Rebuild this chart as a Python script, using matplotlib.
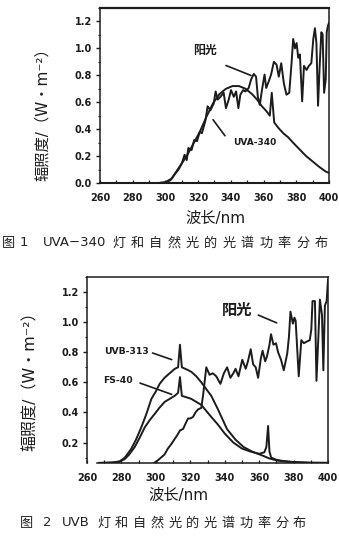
import matplotlib
matplotlib.use('Agg')
import matplotlib.pyplot as plt
from matplotlib.ticker import MultipleLocator

# ---- 图1: UVA-340 灯与阳光 ----
UVA340_WL = [296, 300, 304, 308, 313, 317, 321, 325, 329, 333, 337, 341, 345,
             349, 353, 356, 359, 362, 363.8, 365, 366.5, 369, 372, 375, 378,
             382, 386, 390, 394, 398, 400]
UVA340_VAL = [0.0, 0.005, 0.035, 0.11, 0.2, 0.29, 0.38, 0.49, 0.59, 0.66, 0.70,
              0.72, 0.72, 0.70, 0.66, 0.62, 0.57, 0.53, 0.50, 0.67, 0.45, 0.41,
              0.37, 0.34, 0.30, 0.25, 0.20, 0.16, 0.12, 0.085, 0.075]

SUN1_WL = [296, 300, 303, 306, 308, 310, 311.7, 313, 314, 316, 317.6, 319.3,
           321, 322.3, 324.4, 325.8, 327.5, 329.5, 330.7, 332, 333.6, 335.6,
           337, 338.7, 340.1, 341.8, 343.2, 344.6, 345.8, 347.5, 348.9, 350.9,
           352.4, 354, 355.4, 356.5, 357.7, 359, 360.6, 361.6, 363.2, 364.6,
           366.3, 367.9, 369.3, 370.8, 372.4, 374, 375.7, 377.1, 378.1, 379.2,
           380.2, 381.2, 382.2, 383.6, 384.7, 386.3, 387.7, 389.2, 390.4, 391.4,
           392.3, 393.3, 394.3, 395.3, 396.1, 397, 398, 398.6, 399.4, 400]
SUN1_VAL = [0.0, 0.005, 0.02, 0.07, 0.10, 0.145, 0.21, 0.17, 0.26, 0.245, 0.32,
            0.31, 0.38, 0.37, 0.46, 0.57, 0.54, 0.59, 0.68, 0.62, 0.64, 0.67,
            0.556, 0.62, 0.69, 0.64, 0.68, 0.556, 0.656, 0.69, 0.68, 0.706,
            0.77, 0.81, 0.79, 0.64, 0.58, 0.69, 0.806, 0.706, 0.756, 0.806,
            0.90, 0.88, 0.79, 0.89, 0.74, 0.656, 0.67, 0.89, 1.07, 1.0, 1.04,
            0.93, 0.955, 0.606, 0.87, 0.84, 0.87, 0.89, 1.07, 1.15, 1.04, 0.574,
            0.87, 1.12, 1.105, 0.67, 0.77, 1.12, 1.17, 1.19]

# ---- 图2: UVB 灯 (UVB-313, FS-40) 与阳光 ----
UVB313_WL = [267, 275, 279, 282, 285.7, 288.5, 291.5, 294.5, 297.4, 300, 302.2,
             305, 308, 311, 312.9, 314, 315.1, 318, 320.6, 323.5, 326.4, 329.3,
             332.2, 336.1, 341.3, 346.2, 351, 355.9, 362.7, 365.7, 370.5, 380,
             390, 400]
UVB313_VAL = [0.065, 0.068, 0.075, 0.10, 0.158, 0.22, 0.30, 0.39, 0.49, 0.54,
              0.59, 0.63, 0.66, 0.69, 0.70, 0.85, 0.70, 0.685, 0.67, 0.64, 0.60,
              0.555, 0.51, 0.42, 0.29, 0.22, 0.17, 0.14, 0.11, 0.095, 0.08,
              0.07, 0.065, 0.065]

FS40_WL = [272, 278, 281.9, 284.5, 287.7, 290.5, 293.5, 296.5, 299.3, 302,
           305.1, 308, 310.9, 312.9, 314, 315.1, 318, 320.6, 323.5, 326.4,
           329.3, 332.2, 336, 340, 345, 350, 355, 360, 363, 364.2, 365.2, 366,
           367, 370, 375, 380, 390, 400]
FS40_VAL = [0.065, 0.068, 0.09, 0.12, 0.17, 0.23, 0.30, 0.35, 0.39, 0.43, 0.47,
            0.49, 0.51, 0.53, 0.635, 0.51, 0.50, 0.49, 0.47, 0.45, 0.41, 0.37,
            0.32, 0.26, 0.20, 0.16, 0.14, 0.125, 0.135, 0.17, 0.31, 0.14, 0.10,
            0.085, 0.075, 0.07, 0.066, 0.065]

SUN2_WL = [299, 301, 303, 305, 307, 309, 311, 312.5, 314, 315.8, 317, 318.7,
           320, 321.6, 323, 324.5, 326.4, 327.5, 329.3, 331.2, 333.1, 335.1,
           337.5, 339.5, 341.4, 343.3, 345, 346.3, 348, 350.2, 352.2, 353.5,
           355.1, 356.5, 358, 359.4, 361, 362, 363.5, 364.5, 366, 366.9, 368.3,
           369.8, 371, 372.7, 374.3, 376.3, 377.3, 378.2, 379.6, 380.5, 381.2,
           383, 384.5, 386, 387.5, 389.4, 390.3, 391, 392.4, 393.3, 394.4,
           395.3, 396.5, 397.3, 398.2, 399.2, 400]
SUN2_VAL = [0.065, 0.08, 0.10, 0.12, 0.16, 0.19, 0.225, 0.25, 0.28, 0.29, 0.32,
            0.36, 0.36, 0.37, 0.40, 0.42, 0.43, 0.52, 0.70, 0.65, 0.66, 0.64,
            0.59, 0.66, 0.70, 0.63, 0.66, 0.69, 0.64, 0.75, 0.69, 0.74, 0.82,
            0.72, 0.70, 0.63, 0.76, 0.81, 0.74, 0.77, 0.85, 0.92, 0.85, 0.86,
            0.80, 0.75, 0.68, 0.79, 0.90, 1.07, 0.99, 1.03, 1.01, 0.64, 0.88,
            0.86, 0.87, 0.88, 0.95, 1.14, 1.14, 0.61, 0.90, 1.15, 1.05, 0.68,
            1.11, 1.14, 1.28]

XTICKS = [260, 280, 300, 320, 340, 360, 380, 400]
YTICKS1 = [0.0, 0.2, 0.4, 0.6, 0.8, 1.0, 1.2]
YTICKS2 = [0.2, 0.4, 0.6, 0.8, 1.0, 1.2]

YLABEL = "辐照度/（W・m⁻²）"
XLABEL = "波长/nm"

W, H = 339, 539
INK = '#1c1c1c'
FAM = ['DejaVu Sans', 'Noto Sans CJK SC']
LW = 1.4

fig = plt.figure(figsize=(W / 100, H / 100), dpi=100)
fig.patch.set_facecolor('white')


def box(left, top, right, bottom):
    # pixel box -> figure fraction
    return [left / W, 1 - bottom / H, (right - left) / W, (bottom - top) / H]


def px(x, y):
    return x / W, 1 - y / H


def style(ax, ymin, yticks, ypad):
    ax.set_xlim(260, 400)
    ax.set_ylim(ymin, 1.3)
    ax.set_xticks(XTICKS)
    ax.set_xticklabels([str(t) for t in XTICKS])
    ax.xaxis.set_minor_locator(MultipleLocator(10))
    ax.set_yticks(yticks)
    ax.set_yticklabels(['%.1f' % t for t in yticks])
    ax.yaxis.set_minor_locator(MultipleLocator(0.1))
    ax.tick_params(axis='y', which='major', direction='out', length=3,
                   width=1.0, pad=ypad, colors=INK, labelsize=7)
    ax.tick_params(axis='y', which='minor', direction='out', length=1.8,
                   width=0.8, colors=INK)
    ax.tick_params(axis='x', which='both', direction='in', length=2.2,
                   width=0.9, pad=7.5, colors=INK, labelsize=7)
    for lbl in ax.get_xticklabels() + ax.get_yticklabels():
        lbl.set_fontweight('bold')
        lbl.set_family('DejaVu Sans')
    for s in ax.spines.values():
        s.set_linewidth(1.1)
        s.set_color(INK)


def leader(ax, start, end):
    ax.annotate('', xy=end, xytext=start,
                arrowprops=dict(arrowstyle='-', lw=1.2, color=INK,
                                shrinkA=0, shrinkB=0))


def caption(y, parts, run_x, run, pitch, size=9.5):
    for x, s in parts:
        fig.text(*px(x, y), s, ha='left', va='center', fontsize=size,
                 family=FAM, color='#222222')
    for i, ch in enumerate(run):
        fig.text(*px(run_x + i * pitch, y), ch, ha='left', va='center',
                 fontsize=size, family=FAM, color='#222222')


# 上图
ax1 = fig.add_axes(box(100, 8, 329, 183))
style(ax1, 0.0, YTICKS1, 2.8)
ax1.spines['top'].set_linewidth(1.6)
ax1.spines['bottom'].set_linewidth(1.5)
ax1.plot(UVA340_WL, UVA340_VAL, color=INK, lw=LW)
ax1.plot(SUN1_WL, SUN1_VAL, color=INK, lw=LW)
ax1.text(324.2, 0.985, "阳光", ha='center', va='center', fontsize=8.6,
         fontweight='bold', family=FAM, color=INK)
leader(ax1, (337.0, 0.873), (352.3, 0.799))
ax1.text(354.8, 0.302, "UVA-340", ha='center', va='center', fontsize=6.5,
         fontweight='bold', family='DejaVu Sans', color=INK)
leader(ax1, (329.1, 0.470), (336.4, 0.351))

fig.text(*px(43, 111), YLABEL, rotation=90, ha='center', va='center',
         fontsize=11, family=FAM, color=INK)
fig.text(*px(215, 218), XLABEL, ha='center', va='center', fontsize=11,
         family=FAM, color=INK)
caption(243, [(2, "图"), (20, "1"), (43, "UVA−340")], 112,
        "灯和自然光的光谱功率分布", 18.4)

# 下图
ax2 = fig.add_axes(box(87, 277, 328, 463))
style(ax2, 0.064, YTICKS2, 2.8)
ax2.spines['bottom'].set_bounds(266, 400)
ax2.plot(UVB313_WL, UVB313_VAL, color=INK, lw=LW)
ax2.plot(FS40_WL, FS40_VAL, color=INK, lw=LW)
ax2.plot(SUN2_WL, SUN2_VAL, color=INK, lw=LW)
ax2.text(347.4, 1.08, "阳光", ha='center', va='center', fontsize=11,
         fontweight='bold', family=FAM, color=INK)
leader(ax2, (359.5, 1.047), (370.2, 0.995))
ax2.text(283.0, 0.807, "UVB-313", ha='center', va='center', fontsize=6.7,
         fontweight='bold', family='DejaVu Sans', color=INK)
leader(ax2, (298.1, 0.795), (309.2, 0.751))
ax2.text(278.0, 0.61, "FS-40", ha='center', va='center', fontsize=6.7,
         fontweight='bold', family='DejaVu Sans', color=INK)
leader(ax2, (290.8, 0.595), (309.2, 0.52))

fig.text(*px(30, 377), YLABEL, rotation=90, ha='center', va='center',
         fontsize=11.5, family=FAM, color=INK)
fig.text(*px(178, 495), XLABEL, ha='center', va='center', fontsize=11,
         family=FAM, color=INK)
caption(523, [(20, "图"), (43, "2"), (62, "UVB")], 97,
        "灯和自然光的光谱功率分布", 17.8)

fig.savefig('out.png', dpi=100)
